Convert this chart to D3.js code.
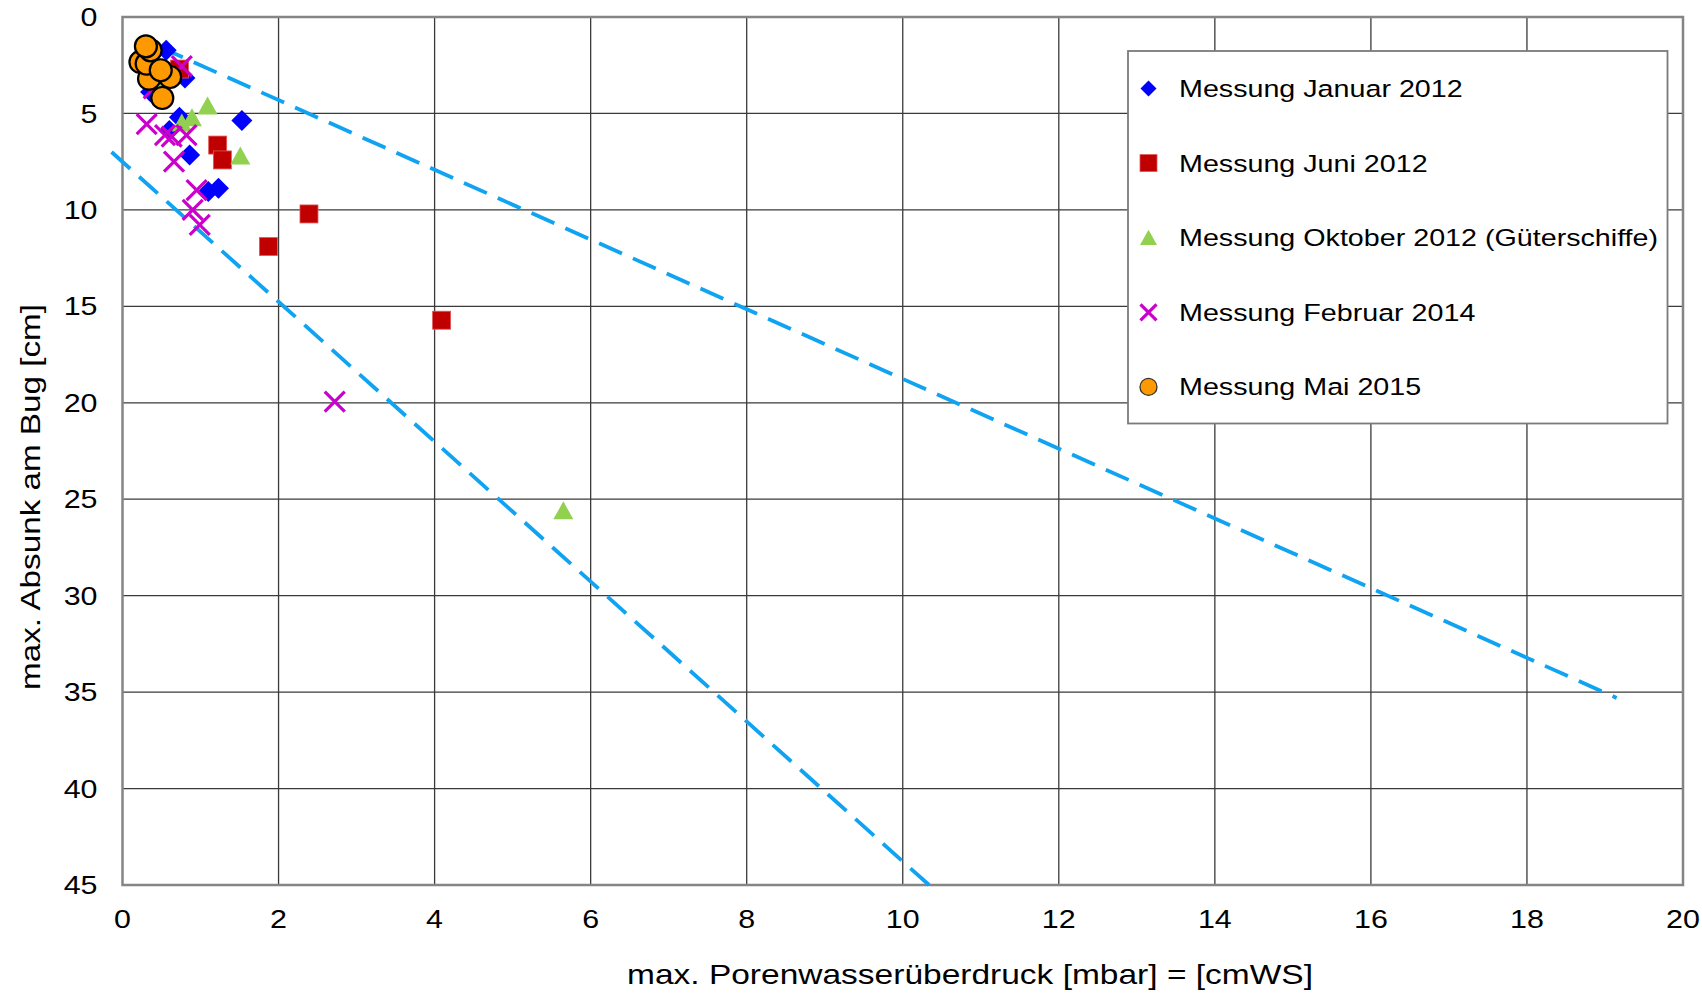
<!DOCTYPE html>
<meta charset="utf-8">
<style>
body { margin: 0; background: #fff; }
text { font-family: "Liberation Sans", Arial, sans-serif; fill: #000; }
</style>
<svg width="1702" height="996"></svg>
<script src="https://cdn.jsdelivr.net/npm/d3@7"></script>
<script>
// Werte: [Porenwasserüberdruck, Absunk]
var janData = [[0.56,1.73],[0.80,3.16],[0.36,3.89],[0.73,5.2],[1.53,5.36],[0.60,5.88],[0.86,7.15],[1.10,9.05],[1.23,8.88]];
var junData = [[0.73,2.7],[1.22,6.64],[1.28,7.41],[2.39,10.21],[1.87,11.9],[4.09,15.72]];
var octData = [[0.50,3.55],[1.09,4.62],[0.89,5.22],[0.76,5.5],[1.51,7.2],[5.65,25.6]];
var febData = [[0.76,2.55],[0.40,3.7],[0.31,5.55],[0.545,6.12],[0.63,6.2],[0.82,6.12],[0.66,7.5],[0.95,8.97],[0.90,10.0],[0.99,10.78],[2.72,19.94]];
var maiData = [[0.23,2.33],[0.34,3.2],[0.61,3.11],[0.31,2.42],[0.49,2.76],[0.36,1.73],[0.30,1.52],[0.51,4.2]];

// Grenzlinien (gestrichelt)
var upperLine = [[0.48,1.56],[19.15,35.3]];
var lowerLine = [[-0.14,7.0],[10.42,45.3]];

var xTickValues = [0,2,4,6,8,10,12,14,16,18,20];
var yTickValues = [0,5,10,15,20,25,30,35,40,45];

var seriesNames = ["Messung Januar 2012","Messung Juni 2012","Messung Oktober 2012 (Güterschiffe)","Messung Februar 2014","Messung Mai 2015"];
var seriesKeys = ["diamond","square","triangle","cross","circle"];

var svg = d3.select("svg");
var plotL = 122.5, plotR = 1683, plotT = 17, plotB = 885;
var stretchK = 1.17;

var x = d3.scaleLinear().domain([0,20]).range([plotL,plotR]);
var y = d3.scaleLinear().domain([0,45]).range([plotT,plotB]);

function stretch(sel, k) {
  sel.each(function() {
    var w = this.getComputedTextLength();
    d3.select(this).attr("textLength", w * k).attr("lengthAdjust", "spacingAndGlyphs");
  });
}

// Gitter
svg.append("g").selectAll("line").data(xTickValues.slice(1,-1)).enter().append("line")
    .attr("x1", function(d) { return x(d); }).attr("x2", function(d) { return x(d); })
    .attr("y1", plotT).attr("y2", plotB)
    .attr("stroke", "#3a3a3a").attr("stroke-width", 1.3);
svg.append("g").selectAll("line").data(yTickValues.slice(1,-1)).enter().append("line")
    .attr("x1", plotL).attr("x2", plotR)
    .attr("y1", function(d) { return y(d); }).attr("y2", function(d) { return y(d); })
    .attr("stroke", "#3a3a3a").attr("stroke-width", 1.3);
svg.append("rect")
    .attr("x", plotL).attr("y", plotT).attr("width", plotR - plotL).attr("height", plotB - plotT)
    .attr("fill", "none").attr("stroke", "#858585").attr("stroke-width", 2.5);

// Achsenbeschriftung
var yl = svg.append("g").selectAll("text").data(yTickValues).enter().append("text")
    .attr("x", 97.5).attr("y", function(d) { return y(d); })
    .attr("text-anchor", "end").attr("dy", "0.35em")
    .style("font-size", "26px")
    .text(function(d) { return d; });
stretch(yl, stretchK);
var xl = svg.append("g").selectAll("text").data(xTickValues).enter().append("text")
    .attr("x", function(d) { return x(d); }).attr("y", 919)
    .attr("text-anchor", "middle").attr("dy", "0.35em")
    .style("font-size", "26px")
    .text(function(d) { return d; });
stretch(xl, stretchK);

svg.append("text")
    .attr("x", 970).attr("y", 984).attr("text-anchor", "middle")
    .style("font-size", "27.5px")
    .attr("textLength", 686).attr("lengthAdjust", "spacingAndGlyphs")
    .text("max. Porenwasserüberdruck [mbar] = [cmWS]");
svg.append("text")
    .attr("transform", "translate(30,497) rotate(-90)")
    .attr("text-anchor", "middle").attr("dy", "0.35em")
    .style("font-size", "27.5px")
    .attr("textLength", 386).attr("lengthAdjust", "spacingAndGlyphs")
    .text("max. Absunk am Bug [cm]");

// Linien
var line = d3.line().x(function(d) { return x(d[0]); }).y(function(d) { return y(d[1]); });
[upperLine, lowerLine].forEach(function(l) {
  svg.append("path").attr("d", line(l))
      .attr("fill", "none").attr("stroke", "#0fa3f2")
      .attr("stroke-width", 3.8).attr("stroke-dasharray", "25,12");
});

// Symbole
function drawMarker(g, key, s) {
  if (key === "diamond") {
    g.append("path").attr("d", "M0," + (-s) + "L" + s + ",0L0," + s + "L" + (-s) + ",0Z").attr("fill", "#0000ff");
  } else if (key === "square") {
    g.append("rect").attr("x", -s).attr("y", -s).attr("width", 2 * s).attr("height", 2 * s)
        .attr("fill", "#c00000").attr("stroke", "#e05858").attr("stroke-width", 0.8);
  } else if (key === "triangle") {
    g.append("path").attr("d", "M0," + (-s * 0.95) + "L" + s + "," + (s * 0.85) + "L" + (-s) + "," + (s * 0.85) + "Z").attr("fill", "#92d050");
  } else if (key === "cross") {
    g.append("path").attr("d", "M" + (-s) + "," + (-s) + "L" + s + "," + s + "M" + (-s) + "," + s + "L" + s + "," + (-s))
        .attr("stroke", "#cc00cc").attr("stroke-width", 3.2).attr("fill", "none");
  } else {
    g.append("circle").attr("r", s).attr("fill", "#ff9900").attr("stroke", "#000").attr("stroke-width", 2.2);
  }
}

var allData = [janData, junData, octData, febData, maiData];
var sizes = [10.5, 9, 10, 10, 11];
allData.forEach(function(data, i) {
  svg.append("g").selectAll("g").data(data).enter().append("g")
      .attr("transform", function(d) { return "translate(" + x(d[0]) + "," + y(d[1]) + ")"; })
      .each(function() { drawMarker(d3.select(this), seriesKeys[i], sizes[i]); });
});

// Legende
var lg = svg.append("g");
lg.append("rect").attr("x", 1128).attr("y", 51).attr("width", 539.5).attr("height", 372.5)
    .attr("fill", "#fff").attr("stroke", "#7a7a7a").attr("stroke-width", 1.8);
var legendSizes = [8, 8.5, 8.5, 8, 8.5];
seriesNames.forEach(function(name, i) {
  var cy = 88.5 + i * 74.6;
  var m = lg.append("g").attr("transform", "translate(1148.5," + cy + ")");
  drawMarker(m, seriesKeys[i], legendSizes[i]);
  if (seriesKeys[i] === "circle") m.select("circle").attr("stroke-width", 1.3).attr("stroke", "#333");
  var t = lg.append("text").attr("x", 1179).attr("y", cy).attr("dy", "0.35em")
      .style("font-size", "24.5px").text(name);
  stretch(t, stretchK);
});
</script>
